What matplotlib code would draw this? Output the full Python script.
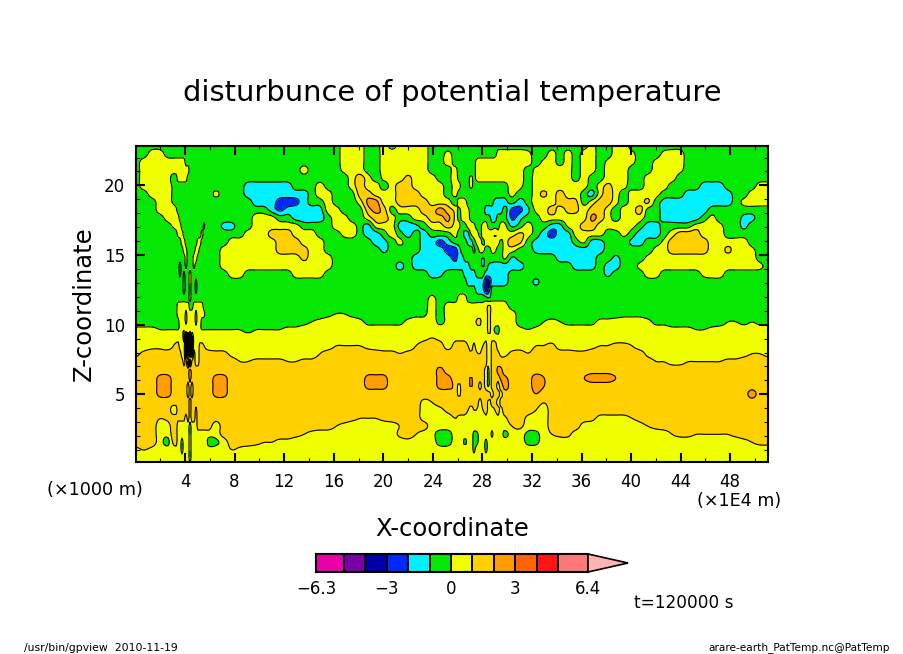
import matplotlib

matplotlib.use("Agg")

import matplotlib.pyplot as plt
import numpy as np

FIG_W, FIG_H = 904, 654

LEVELS = [-6.3, -5, -4, -3, -2, -1, 0, 1, 2, 3, 4, 5, 6.4]
BAND_COLORS = ["#e800a8", "#7a00a8", "#0000a8", "#0028ff", "#00f0ff", "#04e804",
               "#f0ff00", "#ffd000", "#ff9c00", "#ff6400", "#ff1414", "#ff7878"]
OVER_COLOR = "#ffb4b4"
CBAR_TICKS = [-6.3, -3, 0, 3, 6.4]
CBAR_LABELS = ["\u22126.3", "\u22123", "0", "3", "6.4"]

X_MAJOR = [4, 8, 12, 16, 20, 24, 28, 32, 36, 40, 44, 48]
Y_MAJOR = [5, 10, 15, 20]

# field, one letter per sample, top row first
CODE_VALUES = {"n": -3.5, "B": -2.5, "x": -2.3, "c": -1.5, "q": -1.3, ".": -0.5, ",": -0.3,
               "~": 0.02, "t": 0.3, "y": 0.5, "v": 0.7, "1": 1.02, "h": 1.3, "g": 1.5,
               "2": 2.02, "p": 2.3, "o": 2.5, "d": 3.5}

# sample columns in picture pixels: coarse, fine, coarse, fine, coarse
COL_PIXELS = (list(range(136, 176, 8)) + list(range(176, 210, 2)) + list(range(216, 456, 8))
              + list(range(456, 507, 3)) + list(range(512, 769, 8)))
ROW_PIXELS = list(range(146, 467, 8))
SEG_SIZES = [5, 17, 30, 17, 33]
FINE_STRIPS = [(176, 208), (456, 504)]

# five blocks per row; a short block repeats its last letter up to full size
FIELD_ROWS = [
    "..... . ................yyy..y.yyyy... . ..........t..yy.",
    "..yy. . ................yyy..yyyyyy..t ..............yyy yyt..y.y.yy..yyt...tyy.",
    ".yyyy yyyyy. ................yyy..yyyyyy..y .......yyyyyyyyyy yyy.ty.y.yy.tyyt..tyyy.",
    ".yyyy yyyyyyy. ...........y....tyy..yyyyyy... t......yyyyyyyyyy yy.tyyyy.yy.yyy...yyyt.",
    ".yyyy .yyyyy. .................ygy.tyyhyyy.. y....y.yyyyyyyyyy yy.yyyyy.y..yyy..yyyy.",
    ".yyyy . ....cccccc...y...ygyy.yggyyyy. yy...y. yt.yyyyyyy.yhyt..yyy....ccc....yy",
    "..yyy . t...cccccccc.yy...ggyyygggyyy. t. t..yhygyy.cygy.yyyy...cccccc..yyy",
    "...yy . .....cccBBxc..y...ypoyyggggyyy .yyy.........cccc .c.yyyghh.yggt.yyh.qcccccccc.tyyy",
    "...yy t. .......cxcccccyy...gpg.yyyggog y.yyt.....cccccc. Bxqtygyhhyggy.yyg..cccccc.",
    "....y yy. .....yyy..cccc.yy..yggy..yyggp y.tyy.......cc... xq..yyyyyypgy.yyy..ccccc.t...qq..",
    "..... yyy...........t.. .qq..yyyyyy....yyy.cyyyccq.yyg yt..yyt..yy....yy q.y..cctyggytyyt.cc....yyyt..q...",
    "..... .tyy.........y... ....yyygggyyy...ty.cc.y.c.c... t..cctyy.yyyyhyyy yhy.cBccyyyy..t.ccc.ygggyyy.",
    "..... ...yy......yy.... ..yyyyyygggyyy......cq.t..ccBc ....qc.yy.yyyyy.t gh.qcccc.tcc...qc..tgggggyyyyy.",
    "..... ....yt....yy..... .yyyyyyyggggyy.......q....cccB Bc....q.ty..tt..t y..qcccccccc......tygggggyyhyyt..",
    "..... .....y...yy...... .yyyyyyyyyyhyyy..........ccccc xcc......q......t q.....ccccc..q...tyyyyyyyyyyyyy..",
    "..... ..c..t...t....... .yyyyyyyyyyyyyy........c.ccccc ccccc....q.qqcccc cc......ccc.cc..tyyyyyyyyyyyyyyt.",
    "..... ..q.q..y......... ..yy......yyyy.............cq. ...cccc...ccccccc ............q....yy.....tyy.",
    "..... ....c..y..q...... . ....ccccccnnccccc ...q.",
    "..... ....c..t..q...... . .......cccnB..... .",
    "..... .......y......... ...........................t.. .yyy.......q,,,,, .",
    "..... .yyyyyy..yyyyy... ...........................y.y yyyyytttttygyyyyy .",
    "..... .yyyyhyyyyhyyyt.. ..............,~~,.......,,y.y yyyyyyyyyyygyyyyy y.............,,,.",
    "..... ..yyyhyyyyhyy.... ...........,~tyyyyt,,,,,tyyy,t yyyyyyyhhyygyyyyy y...~t~,,,,ttyyyyt,,.......~~,~,,",
    "ttt~~ ~~~~~yyyyyy~ ~~~~,~~~~tty yyyyyyyyy,ygy,.yy yt~tyyyyyyyyyyyyyyyyttt~~ty",
    "yyyyy yyyy.dcdcy yyyyyyyyyyyyyyyyyyyyyyyyyyv1vy vvvvyyyyyyvvvvy y",
    "yyvvy hgyyydcdcyyyhh1vy yyyyyyyyyyyyyyy1111vyyyyy1gggy gggg1yhyy1g.ggy yyy11hyyyyv11hh1y",
    "vhggg gggyydcdcgyyg hhvyyyyyyyyyy1ggggggghh1hhgggg1 ggggg1g11gg.gghvv hg1ggggghhgggggggvyyyyyyyyyyyv11v",
    "g ggggygdcggyyg ggg11hhhh11hhg ggggggggggg.g gggggggggggggggggg11vv11111hhg",
    "g gggggggog ggggggggggggggggggggggggggggpg ggggggggggy.ggppg g",
    "gggpp gggggggog ppgggggggggggggggggpppggggggpp gggggpggggy.gggpp gggo2gggg2ooo2g",
    "gggpp ggggggygyg ppgggggggggggggggggpppggggggpp gygggpggygy.ggygp gggo2g",
    "gggpp ggggggygyg ppg gyggggggggggyggygp ggg2ggggggggggggggggggggggggggogg",
    "g gggggggyg ggggggggggggggggggggggggggv1gg ggggghggyggyggyhg gggg1g",
    "g yggggggyggvg ggggggggggggggggggggggggggyyvh gggg1y11y1gyy1gyg ggg1yg",
    "ggg1h ghhhhygyggyg hggggggggggggggggh111hggggyyyy 1vvvyyyyyyvyyyvyv ggvyyggggghvvvv1hg",
    "gggyy gyyyyyy.yyyg ygggggggggggggg1vyyyyyy1gggyyyy y 1hyyyggggyyyyyyyv1hg",
    "gggyt gyyyyyy.y ygggggggggh1vyyyyyyyyyyhg1yt.. yyytyy,,yyyy,yyy, yy,,y1hhyyyyyyyyyyyy1hh11111hg",
    "gggy. gyy.yyy.yyyyyyyy, ,ygggh11vvyyyyyyyyyyyyyyvyyy.. yyy.yy,,yy,y yy,,yyyyyyyyyyyyyyyyyyyyyyyyyv1hh",
    "v1vyy yyy.yyy.y yy1vy yyyyyy,yyy,yyyy,y y",
    "y yyyyyyy.y y y y",
    "y y y y y",
]


def px(x, y):
    return x / FIG_W, 1 - y / FIG_H


def row_values(row):
    blocks = row.split()
    text = "".join(b.ljust(n, b[-1])[:n] for b, n in zip(blocks, SEG_SIZES))
    return [CODE_VALUES[c] for c in text]


def hermite(xq, xs, vs):
    # cubic through the samples, so single-sample features keep their height
    slopes = np.gradient(vs, xs)
    idx = np.clip(np.searchsorted(xs, xq, side="right") - 1, 0, len(xs) - 2)
    h = xs[idx + 1] - xs[idx]
    t = (xq - xs[idx]) / h
    return ((2 * t**3 - 3 * t**2 + 1) * vs[idx] + (t**3 - 2 * t**2 + t) * h * slopes[idx]
            + (-2 * t**3 + 3 * t**2) * vs[idx + 1] + (t**3 - t**2) * h * slopes[idx + 1])


def soften(values, axis):
    kernel = np.array([1, 2, 1]) / 4
    padded = np.pad(values, [(1, 1) if a == axis else (0, 0) for a in range(2)], mode="edge")
    return np.apply_along_axis(lambda v: np.convolve(v, kernel, mode="valid"), axis, padded)


raw = np.array([row_values(r) for r in FIELD_ROWS])
col_px = np.array(COL_PIXELS, dtype=float)
row_px = np.array(ROW_PIXELS, dtype=float)

# resample to 2 px, the fine strips stay linear and sharp across x
xf = np.arange(136, 769, 2.0)
yf = np.arange(146, 467, 2.0)
keep = np.zeros(xf.size, dtype=bool)
for lo, hi in FINE_STRIPS:
    keep |= (xf >= lo) & (xf <= hi)
field = np.array([np.where(keep, np.interp(xf, col_px, r), hermite(xf, col_px, r)) for r in raw])
field = np.array([hermite(yf, row_px, c) for c in field.T]).T
field = np.where(keep, field, soften(field, 1))
field = soften(field, 0)
# midpoints land exactly on the levels otherwise
field = field + 0.004

x = (xf - 135.5) / 12.39
y = (464 - yf) / 13.93

fig = plt.figure(figsize=(FIG_W / 100, FIG_H / 100), dpi=100, facecolor="white")
ax = fig.add_axes([136 / FIG_W, 1 - 462 / FIG_H, 632 / FIG_W, 316 / FIG_H])
ax.contourf(x, y, field, levels=LEVELS, colors=BAND_COLORS, antialiased=False)
ax.contour(x, y, field, levels=LEVELS, colors="black", linewidths=0.8, linestyles="solid", antialiased=True)
ax.set_xlim((136 - 135.5) / 12.39, (768 - 135.5) / 12.39)
ax.set_ylim((464 - 462) / 13.93, (464 - 146) / 13.93)

ax.set_xticks(X_MAJOR)
ax.set_yticks(Y_MAJOR)
ax.set_xticks(np.arange(2, 51, 4), minor=True)
ax.set_yticks([v for v in range(1, 23) if v % 5], minor=True)
ax.tick_params(which="major", direction="in", top=True, right=True, length=6.5, width=1.5,
               labelsize=12, pad=8)
ax.tick_params(which="minor", direction="in", top=True, right=True, length=3, width=0.8)
for spine in ax.spines.values():
    spine.set_linewidth(1.5)

fig.text(*px(452, 93), "disturbunce of potential temperature", fontsize=20.8, ha="center", va="center")
fig.text(*px(452, 529), "X-coordinate", fontsize=17.5, ha="center", va="center")
fig.text(*px(84, 304), "Z-coordinate", fontsize=17.5, rotation=90, ha="center", va="center")
fig.text(*px(95, 490), "(\u00d71000 m)", fontsize=12.7, ha="center", va="center")
fig.text(*px(739, 501), "(\u00d71E4 m)", fontsize=12.6, ha="center", va="center")
fig.text(*px(684, 603), "t=120000 s", fontsize=12.2, ha="center", va="center")
fig.text(*px(101, 648), "/usr/bin/gpview  2010-11-19", fontsize=7.8, ha="center", va="center")
fig.text(*px(799, 648), "arare-earth_PatTemp.nc@PatTemp", fontsize=7.6, ha="center", va="center")

cax = fig.add_axes([316 / FIG_W, 1 - 572 / FIG_H, 272 / FIG_W, 18 / FIG_H])
cax.pcolormesh(LEVELS, [0, 1], np.arange(12).reshape(1, -1), cmap=matplotlib.colors.ListedColormap(BAND_COLORS),
               edgecolors="black", linewidth=1.2, antialiased=False)
cax.fill([6.4, 6.4, 6.4 + 40 / 21.4], [0, 1, 0.5], facecolor=OVER_COLOR, edgecolor="black",
         linewidth=1.2, clip_on=False)
cax.set_xlim(-6.3, 6.4)
cax.set_ylim(0, 1)
cax.set_yticks([])
cax.set_xticks(CBAR_TICKS, labels=CBAR_LABELS)
cax.tick_params(length=0, labelsize=12, pad=6)
for side, spine in cax.spines.items():
    spine.set_linewidth(1.5)
    spine.set_visible(side != "right")

fig.savefig("out.png", dpi=100, facecolor="white")
